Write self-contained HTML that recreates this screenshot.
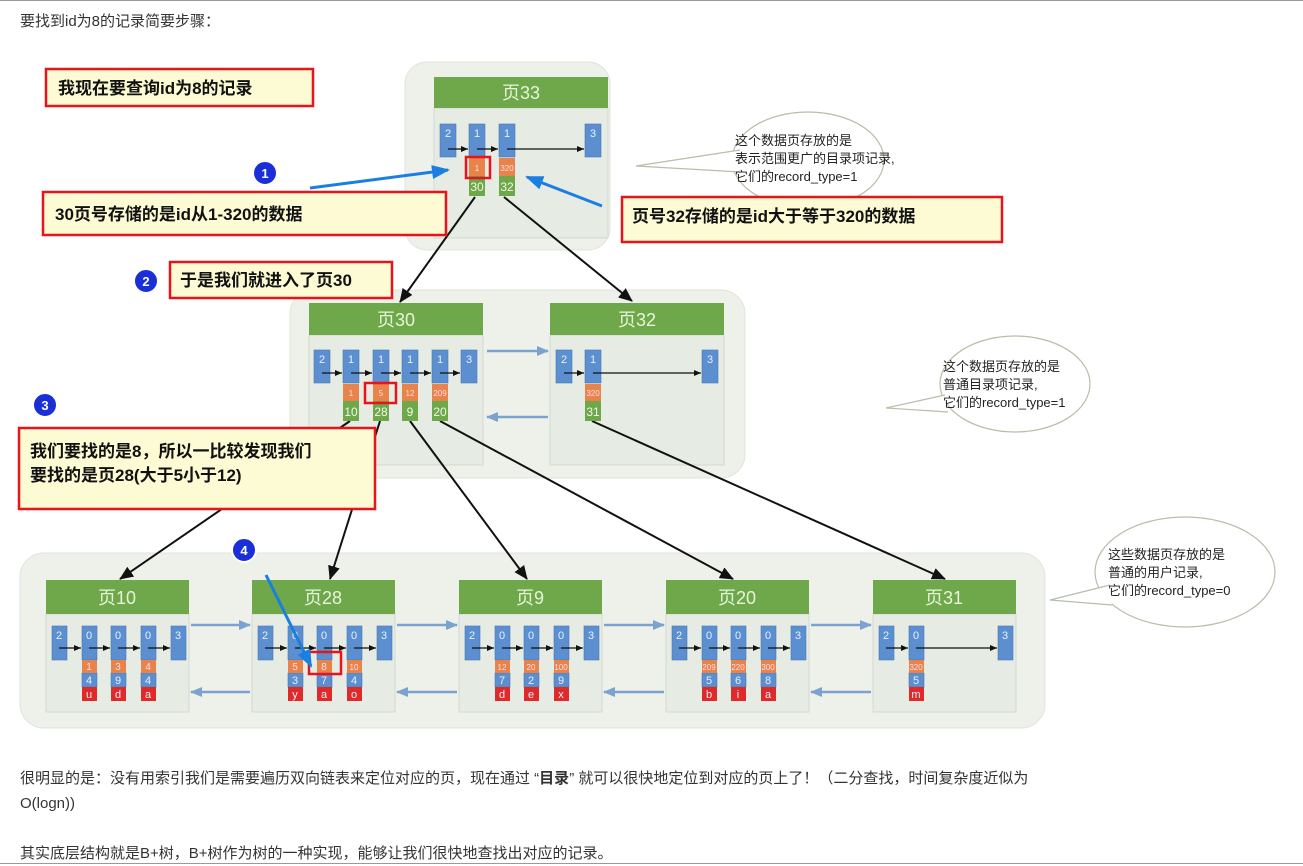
<!DOCTYPE html>
<html><head><meta charset="utf-8"><style>
body{margin:0;width:1303px;height:866px;background:#fff;font-family:"Liberation Sans","Noto Sans CJK SC",sans-serif;overflow:hidden;position:relative}
.t{position:absolute;left:20px;font-size:15px;color:#333}
svg{position:absolute;left:0;top:0}
</style></head><body>
<div style="position:absolute;left:0;top:0;width:1303px;height:1px;background:#999"></div>
<div class="t" style="top:10px;font-size:15px">要找到id为8的记录简要步骤：</div>
<div class="t" style="top:767px">很明显的是：没有用索引我们是需要遍历双向链表来定位对应的页，现在通过 “<b>目录</b>” 就可以很快地定位到对应的页上了！（二分查找，时间复杂度近似为</div>
<div class="t" style="top:795px">O(logn))</div>
<div class="t" style="top:842px">其实底层结构就是B+树，B+树作为树的一种实现，能够让我们很快地查找出对应的记录。</div>
<div style="position:absolute;left:0;top:863px;width:1303px;height:1px;background:#999"></div>
<svg width="1303" height="760" font-family="Liberation Sans, Noto Sans CJK SC, sans-serif">
<defs>
<marker id="a" markerUnits="userSpaceOnUse" markerWidth="14" markerHeight="12" refX="13" refY="6" orient="auto"><path d="M0,0L14,6L0,12z" fill="#111"/></marker>
<marker id="b" markerUnits="userSpaceOnUse" markerWidth="7" markerHeight="6" refX="7" refY="3" orient="auto"><path d="M0,0L7,3L0,6z" fill="#111"/></marker>
<marker id="c" markerUnits="userSpaceOnUse" markerWidth="18" markerHeight="14" refX="16" refY="7" orient="auto"><path d="M0,0L18,7L0,14z" fill="#1a7fe0"/></marker>
<marker id="d" markerUnits="userSpaceOnUse" markerWidth="12" markerHeight="10" refX="11" refY="5" orient="auto"><path d="M0,0L12,5L0,10z" fill="#7ca3cf"/></marker>
</defs>
<rect x="405" y="62" width="205" height="188" rx="22" fill="#eef1ea" stroke="#dfe4dc"/>
<rect x="290" y="290" width="455" height="188" rx="24" fill="#eef1ea" stroke="#dfe4dc"/>
<rect x="20" y="553" width="1025" height="175" rx="24" fill="#eef1ea" stroke="#dfe4dc"/>
<g fill="#e6ebe4" stroke="#d3d9d0">
<rect x="434" y="108" width="174" height="130"/>
<rect x="309" y="335" width="174" height="130"/>
<rect x="550" y="335" width="174" height="130"/>
<rect x="46" y="614" width="143" height="98"/>
<rect x="252" y="614" width="143" height="98"/>
<rect x="459" y="614" width="143" height="98"/>
<rect x="666" y="614" width="143" height="98"/>
<rect x="873" y="614" width="143" height="98"/>
</g>
<g fill="#6ea84b">
<rect x="434" y="77" width="174" height="31"/>
<rect x="309" y="303" width="174" height="32"/>
<rect x="550" y="303" width="174" height="32"/>
<rect x="46" y="580" width="143" height="34"/>
<rect x="252" y="580" width="143" height="34"/>
<rect x="459" y="580" width="143" height="34"/>
<rect x="666" y="580" width="143" height="34"/>
<rect x="873" y="580" width="143" height="34"/>
</g>
<g fill="#e8f5d8" font-size="18" text-anchor="middle">
<text x="521" y="99">页33</text><text x="396" y="326">页30</text><text x="637" y="326">页32</text>
<text x="117" y="604">页10</text><text x="323" y="604">页28</text><text x="530" y="604">页9</text><text x="737" y="604">页20</text><text x="944" y="604">页31</text>
</g>
<g stroke="#111" stroke-width="2" marker-end="url(#a)">
<line x1="475" y1="197" x2="400" y2="302"/>
<line x1="504" y1="197" x2="632" y2="301"/>
<line x1="350" y1="421" x2="120" y2="579"/>
<line x1="380" y1="421" x2="330" y2="579"/>
<line x1="410" y1="421" x2="527" y2="579"/>
<line x1="440" y1="421" x2="733" y2="579"/>
<line x1="592" y1="421" x2="945" y2="579"/>
</g>
<g stroke="#7ca3cf" stroke-width="2.5" marker-end="url(#d)">
<line x1="487" y1="351" x2="548" y2="351"/><line x1="548" y1="417" x2="487" y2="417"/>
<line x1="191" y1="625" x2="250" y2="625"/><line x1="250" y1="692" x2="191" y2="692"/>
<line x1="397" y1="625" x2="457" y2="625"/><line x1="457" y1="692" x2="397" y2="692"/>
<line x1="604" y1="625" x2="664" y2="625"/><line x1="664" y1="692" x2="604" y2="692"/>
<line x1="811" y1="625" x2="871" y2="625"/><line x1="871" y1="692" x2="811" y2="692"/>
</g>
<g fill="#5b8fd0" stroke="#4a78b5" stroke-width="0.6">
<rect x="440" y="124" width="16" height="33"/><rect x="469" y="124" width="16" height="33"/><rect x="499" y="124" width="16" height="33"/><rect x="585" y="124" width="16" height="33"/>
<rect x="314" y="350" width="16" height="33"/><rect x="343" y="350" width="16" height="33"/><rect x="373" y="350" width="16" height="33"/><rect x="402" y="350" width="16" height="33"/><rect x="432" y="350" width="16" height="33"/><rect x="461" y="350" width="16" height="33"/>
<rect x="556" y="350" width="16" height="33"/><rect x="585" y="350" width="16" height="33"/><rect x="702" y="350" width="16" height="33"/>
<rect x="52" y="626" width="15" height="34"/><rect x="82" y="626" width="15" height="34"/><rect x="111" y="626" width="15" height="34"/><rect x="141" y="626" width="15" height="34"/><rect x="171" y="626" width="15" height="34"/>
<rect x="258" y="626" width="15" height="34"/><rect x="288" y="626" width="15" height="34"/><rect x="317" y="626" width="15" height="34"/><rect x="347" y="626" width="15" height="34"/><rect x="377" y="626" width="15" height="34"/>
<rect x="465" y="626" width="15" height="34"/><rect x="495" y="626" width="15" height="34"/><rect x="524" y="626" width="15" height="34"/><rect x="554" y="626" width="15" height="34"/><rect x="584" y="626" width="15" height="34"/>
<rect x="672" y="626" width="15" height="34"/><rect x="702" y="626" width="15" height="34"/><rect x="731" y="626" width="15" height="34"/><rect x="761" y="626" width="15" height="34"/><rect x="791" y="626" width="15" height="34"/>
<rect x="879" y="626" width="15" height="34"/><rect x="909" y="626" width="15" height="34"/><rect x="998" y="626" width="15" height="34"/>
<rect x="82" y="673" width="15" height="14"/><rect x="111" y="673" width="15" height="14"/><rect x="141" y="673" width="15" height="14"/>
<rect x="288" y="673" width="15" height="14"/><rect x="317" y="673" width="15" height="14"/><rect x="347" y="673" width="15" height="14"/>
<rect x="495" y="673" width="15" height="14"/><rect x="524" y="673" width="15" height="14"/><rect x="554" y="673" width="15" height="14"/>
<rect x="702" y="673" width="15" height="14"/><rect x="731" y="673" width="15" height="14"/><rect x="761" y="673" width="15" height="14"/>
<rect x="909" y="673" width="15" height="14"/>
</g>
<g fill="#e8834a">
<rect x="469" y="158" width="16" height="18"/><rect x="499" y="158" width="16" height="18"/>
<rect x="343" y="384" width="16" height="17"/><rect x="373" y="384" width="16" height="17"/><rect x="402" y="384" width="16" height="17"/><rect x="432" y="384" width="16" height="17"/>
<rect x="585" y="384" width="16" height="17"/>
<rect x="82" y="660" width="15" height="13"/><rect x="111" y="660" width="15" height="13"/><rect x="141" y="660" width="15" height="13"/>
<rect x="288" y="660" width="15" height="13"/><rect x="317" y="660" width="15" height="13"/><rect x="347" y="660" width="15" height="13"/>
<rect x="495" y="660" width="15" height="13"/><rect x="524" y="660" width="15" height="13"/><rect x="554" y="660" width="15" height="13"/>
<rect x="702" y="660" width="15" height="13"/><rect x="731" y="660" width="15" height="13"/><rect x="761" y="660" width="15" height="13"/>
<rect x="909" y="660" width="15" height="13"/>
</g>
<g fill="#6ea84b">
<rect x="469" y="176" width="16" height="20"/><rect x="499" y="176" width="16" height="20"/>
<rect x="343" y="401" width="16" height="20"/><rect x="373" y="401" width="16" height="20"/><rect x="402" y="401" width="16" height="20"/><rect x="432" y="401" width="16" height="20"/>
<rect x="585" y="401" width="16" height="20"/>
</g>
<g fill="#e02a2a">
<rect x="82" y="687" width="15" height="14"/><rect x="111" y="687" width="15" height="14"/><rect x="141" y="687" width="15" height="14"/>
<rect x="288" y="687" width="15" height="14"/><rect x="317" y="687" width="15" height="14"/><rect x="347" y="687" width="15" height="14"/>
<rect x="495" y="687" width="15" height="14"/><rect x="524" y="687" width="15" height="14"/><rect x="554" y="687" width="15" height="14"/>
<rect x="702" y="687" width="15" height="14"/><rect x="731" y="687" width="15" height="14"/><rect x="761" y="687" width="15" height="14"/>
<rect x="909" y="687" width="15" height="14"/>
</g>
<g stroke="#111" stroke-width="1.3" marker-end="url(#b)">
<line x1="448" y1="149" x2="468" y2="149"/><line x1="477" y1="149" x2="498" y2="149"/><line x1="507" y1="149" x2="584" y2="149"/>
<line x1="322" y1="373" x2="342" y2="373"/><line x1="351" y1="373" x2="372" y2="373"/><line x1="381" y1="373" x2="401" y2="373"/><line x1="410" y1="373" x2="431" y2="373"/><line x1="440" y1="373" x2="460" y2="373"/>
<line x1="564" y1="373" x2="584" y2="373"/><line x1="593" y1="373" x2="701" y2="373"/>
<line x1="59" y1="648" x2="81" y2="648"/><line x1="89" y1="648" x2="110" y2="648"/><line x1="118" y1="648" x2="140" y2="648"/><line x1="148" y1="648" x2="170" y2="648"/>
<line x1="265" y1="648" x2="287" y2="648"/><line x1="295" y1="648" x2="316" y2="648"/><line x1="324" y1="648" x2="346" y2="648"/><line x1="354" y1="648" x2="376" y2="648"/>
<line x1="472" y1="648" x2="494" y2="648"/><line x1="502" y1="648" x2="523" y2="648"/><line x1="531" y1="648" x2="553" y2="648"/><line x1="561" y1="648" x2="583" y2="648"/>
<line x1="679" y1="648" x2="701" y2="648"/><line x1="709" y1="648" x2="730" y2="648"/><line x1="738" y1="648" x2="760" y2="648"/><line x1="768" y1="648" x2="790" y2="648"/>
<line x1="886" y1="648" x2="908" y2="648"/><line x1="916" y1="648" x2="997" y2="648"/>
</g>
<g font-size="11" fill="#e8f0ff" text-anchor="middle">
<text x="448" y="137">2</text><text x="477" y="137">1</text><text x="507" y="137">1</text><text x="593" y="137">3</text>
<text x="322" y="363">2</text><text x="351" y="363">1</text><text x="381" y="363">1</text><text x="410" y="363">1</text><text x="440" y="363">1</text><text x="469" y="363">3</text>
<text x="564" y="363">2</text><text x="593" y="363">1</text><text x="710" y="363">3</text>
<text x="59" y="639">2</text><text x="89" y="639">0</text><text x="118" y="639">0</text><text x="148" y="639">0</text><text x="178" y="639">3</text>
<text x="265" y="639">2</text><text x="295" y="639">0</text><text x="324" y="639">0</text><text x="354" y="639">0</text><text x="384" y="639">3</text>
<text x="472" y="639">2</text><text x="502" y="639">0</text><text x="531" y="639">0</text><text x="561" y="639">0</text><text x="591" y="639">3</text>
<text x="679" y="639">2</text><text x="709" y="639">0</text><text x="738" y="639">0</text><text x="768" y="639">0</text><text x="798" y="639">3</text>
<text x="886" y="639">2</text><text x="916" y="639">0</text><text x="1005" y="639">3</text>
<text x="89" y="684">4</text><text x="118" y="684">9</text><text x="148" y="684">4</text>
<text x="295" y="684">3</text><text x="324" y="684">7</text><text x="354" y="684">4</text>
<text x="502" y="684">7</text><text x="531" y="684">2</text><text x="561" y="684">9</text>
<text x="709" y="684">5</text><text x="738" y="684">6</text><text x="768" y="684">8</text>
<text x="916" y="684">5</text>
<text x="89" y="698">u</text><text x="118" y="698">d</text><text x="148" y="698">a</text>
<text x="295" y="698">y</text><text x="324" y="698">a</text><text x="354" y="698">o</text>
<text x="502" y="698">d</text><text x="531" y="698">e</text><text x="561" y="698">x</text>
<text x="709" y="698">b</text><text x="738" y="698">i</text><text x="768" y="698">a</text>
<text x="916" y="698">m</text>
</g>
<g font-size="8" fill="#fde" text-anchor="middle">
<text x="477" y="171">1</text><text x="507" y="171">320</text>
<text x="351" y="396">1</text><text x="381" y="396">5</text><text x="410" y="396">12</text><text x="440" y="396">209</text><text x="593" y="396">320</text>
<text x="89" y="670" font-size="10">1</text><text x="118" y="670" font-size="10">3</text><text x="148" y="670" font-size="10">4</text>
<text x="295" y="670" font-size="10">5</text><text x="324" y="670" font-size="10">8</text><text x="354" y="670">10</text>
<text x="502" y="670">12</text><text x="531" y="670">20</text><text x="561" y="670">100</text>
<text x="709" y="670">209</text><text x="738" y="670">220</text><text x="768" y="670">300</text><text x="916" y="670">320</text>
</g>
<g font-size="12" fill="#f0f8e8" text-anchor="middle">
<text x="477" y="191">30</text><text x="507" y="191">32</text>
<text x="351" y="416">10</text><text x="381" y="416">28</text><text x="410" y="416">9</text><text x="440" y="416">20</text><text x="593" y="416">31</text>
</g>
<g fill="none" stroke="#e8131b" stroke-width="2.5">
<rect x="466" y="157" width="24" height="21"/>
<rect x="365" y="383" width="31" height="20"/>
<rect x="309" y="652" width="32" height="22"/>
</g>
<g fill="#fff" stroke="#b5bfa9" stroke-width="1.2">
<ellipse cx="808" cy="160" rx="76" ry="48"/>
<ellipse cx="1015" cy="384" rx="75" ry="48"/>
<ellipse cx="1185" cy="572" rx="90" ry="55"/>
<path d="M740,150 L636,166 L740,172" fill="#fff"/>
<path d="M945,395 L886,408 L948,412" fill="#fff"/>
<path d="M1110,585 L1050,600 L1112,605" fill="#fff"/>
</g>
<g font-size="13" fill="#222">
<text x="735" y="145">这个数据页存放的是</text><text x="735" y="163">表示范围更广的目录项记录,</text><text x="735" y="181">它们的record_type=1</text>
<text x="943" y="371">这个数据页存放的是</text><text x="943" y="389">普通目录项记录,</text><text x="943" y="407">它们的record_type=1</text>
<text x="1108" y="559">这些数据页存放的是</text><text x="1108" y="577">普通的用户记录,</text><text x="1108" y="595">它们的record_type=0</text>
</g>
<g fill="#fdfbd3" stroke="#e8131b" stroke-width="2.5">
<rect x="46" y="69" width="267" height="37"/>
<rect x="43" y="192" width="403" height="43"/>
<rect x="622" y="197" width="380" height="45"/>
<rect x="170" y="262" width="222" height="36"/>
<rect x="19" y="428" width="356" height="81"/>
</g>
<g font-size="17" fill="#111" font-weight="bold">
<text x="58" y="94">我现在要查询id为8的记录</text>
<text x="55" y="220">30页号存储的是id从1-320的数据</text>
<text x="632" y="222">页号32存储的是id大于等于320的数据</text>
<text x="180" y="286">于是我们就进入了页30</text>
<text x="30" y="457">我们要找的是8，所以一比较发现我们</text>
<text x="30" y="481">要找的是页28(大于5小于12)</text>
</g>
<g stroke="#1a7fe0" stroke-width="3" marker-end="url(#c)">
<line x1="310" y1="188" x2="448" y2="170"/>
<line x1="602" y1="206" x2="527" y2="177"/>
<line x1="266" y1="575" x2="311" y2="666"/>
</g>
<g fill="#1a2fd8" stroke="#fff" stroke-width="2">
<circle cx="265" cy="173" r="12"/><circle cx="146" cy="281" r="12"/><circle cx="45" cy="405" r="12"/><circle cx="244" cy="550" r="12"/>
</g>
<g fill="#fff" font-size="13" font-weight="bold" text-anchor="middle">
<text x="265" y="178">1</text><text x="146" y="286">2</text><text x="45" y="410">3</text><text x="244" y="555">4</text>
</g>
</svg>
</body></html>
